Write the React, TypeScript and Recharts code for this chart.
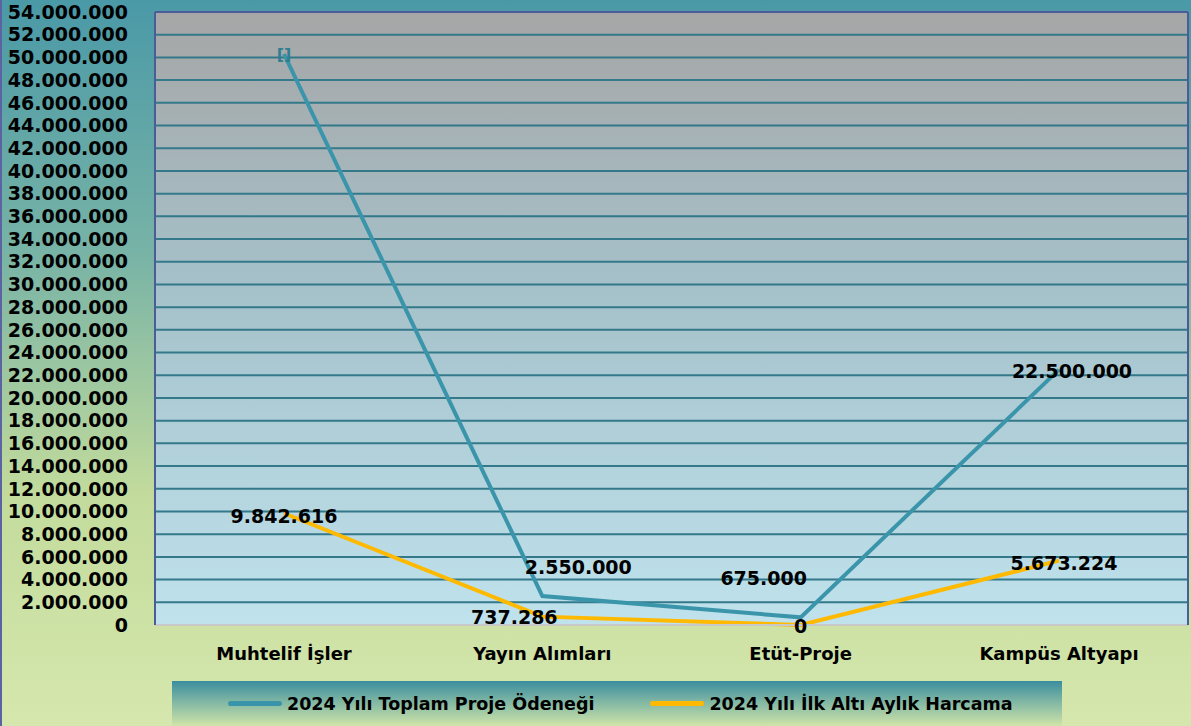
import { LineChart, Line, XAxis, YAxis, CartesianGrid, Legend, LabelList, ReferenceLine } from 'recharts';

const categories = ['Muhtelif İşler', 'Yayın Alımları', 'Etüt-Proje', 'Kampüs Altyapı'];
const toplamOdenek = [50300000, 2550000, 675000, 22500000];
const ilkAltiAy = [9842616, 737286, 0, 5673224];
const yTicks = [0, 2, 4, 6, 8, 10, 12, 14, 16, 18, 20, 22, 24, 26, 28, 30, 32, 34, 36, 38, 40, 42, 44, 46, 48, 50, 52, 54].map((m) => m * 1000000);

// where Excel put each label, relative to its point
const toplamLabelShift = [[0, 0], [36, -29], [-37, -39], [13, 1]];
const harcamaLabelShift = [[0, 3], [-28, 0], [0, 1], [5, 2]];

const SERIES = [
  { key: 'toplam', name: '2024 Yılı Toplam Proje Ödeneği', color: '#3b95aa' },
  { key: 'harcama', name: '2024 Yılı İlk Altı Aylık Harcama', color: '#ffb900' },
];

const FONT = '"DejaVu Sans", sans-serif';

const data = categories.map((name, i) => ({ name, toplam: toplamOdenek[i], harcama: ilkAltiAy[i] }));

const fmt = (v: number) => String(Math.round(v)).replace(/\B(?=(\d{3})+(?!\d))/g, '.');

function makeLabel(shift: number[][], missingFirst: boolean) {
  return (props: any) => {
    const { x, y, value, index } = props;
    const [dx, dy] = shift[index] || [0, 0];
    const placeholder = missingFirst && index === 0;
    return (
      <text
        x={x + dx}
        y={y + dy}
        textAnchor="middle"
        dominantBaseline="central"
        fontFamily={FONT}
        fontWeight="bold"
        fontSize={placeholder ? 16 : 19}
        fill={placeholder ? '#2f7f90' : '#000'}
      >
        {placeholder ? '[]' : fmt(value)}
      </text>
    );
  };
}

function LegendBox() {
  return (
    <div
      style={{
        marginLeft: 170,
        width: 890,
        height: 45,
        background: 'linear-gradient(to bottom, #3a8d9f 0%, #7fb6a4 45%, #cfe4a8 100%)',
        display: 'flex',
        alignItems: 'center',
        fontFamily: FONT,
        fontWeight: 'bold',
        fontSize: 17.5,
        color: '#000',
      }}
    >
      {SERIES.map((s) => (
        <span key={s.key} style={{ display: 'flex', alignItems: 'center', marginLeft: 56 }}>
          <span style={{ width: 54, height: 5, borderRadius: 3, background: s.color, marginRight: 5 }} />
          {s.name}
        </span>
      ))}
    </div>
  );
}

export default function App() {
  return (
    <div
      style={{
        position: 'absolute',
        left: 0,
        top: 0,
        width: 1191,
        height: 726,
        background: 'linear-gradient(to bottom, #4a99a7 0%, #78b3a6 35%, #c2db9c 68%, #d6e7ad 100%)',
        boxSizing: 'border-box',
        borderLeft: '2px solid #5b63a3',
        overflow: 'hidden',
      }}
    >
      <LineChart
        width={1189}
        height={726}
        data={data}
        margin={{ top: 12, right: 1, bottom: 0, left: 0 }}
      >
        <defs>
          <linearGradient id="plotBg" x1="0" y1="0" x2="0" y2="1">
            <stop offset="0%" stopColor="#a6a6a6" />
            <stop offset="45%" stopColor="#a5c1ca" />
            <stop offset="100%" stopColor="#bfe2ec" />
          </linearGradient>
        </defs>
        <CartesianGrid vertical={false} stroke="#33798a" strokeWidth={2} fill="url(#plotBg)" fillOpacity={1} />
        <XAxis
          dataKey="name"
          height={56}
          padding={{ left: 129, right: 129 }}
          tickSize={0}
          tickMargin={22}
          axisLine={{ stroke: '#c8c8c8', strokeWidth: 2 }}
          tick={{ fontFamily: FONT, fontWeight: 'bold', fontSize: 18, fill: '#000' }}
        />
        <YAxis
          width={153}
          domain={[0, 54000000]}
          ticks={yTicks}
          interval={0}
          tickSize={0}
          tickMargin={27}
          tickFormatter={fmt}
          axisLine={{ stroke: '#4b5c98', strokeWidth: 2 }}
          tick={{ fontFamily: FONT, fontWeight: 'bold', fontSize: 19, fill: '#000' }}
        />
        <YAxis
          yAxisId="right"
          orientation="right"
          width={2}
          domain={[0, 54000000]}
          tick={false}
          tickLine={false}
          axisLine={{ stroke: '#4b5c98', strokeWidth: 2 }}
        />
        <ReferenceLine y={54000000} stroke="#4b5c98" strokeWidth={2} />
        <Legend verticalAlign="bottom" height={45} content={() => <LegendBox />} />
        <Line
          type="linear"
          dataKey="toplam"
          name={SERIES[0].name}
          stroke={SERIES[0].color}
          strokeWidth={4}
          dot={false}
          isAnimationActive={false}
        >
          <LabelList dataKey="toplam" content={makeLabel(toplamLabelShift, true)} />
        </Line>
        <Line
          type="linear"
          dataKey="harcama"
          name={SERIES[1].name}
          stroke={SERIES[1].color}
          strokeWidth={4}
          dot={false}
          isAnimationActive={false}
        >
          <LabelList dataKey="harcama" content={makeLabel(harcamaLabelShift, false)} />
        </Line>
      </LineChart>
    </div>
  );
}
